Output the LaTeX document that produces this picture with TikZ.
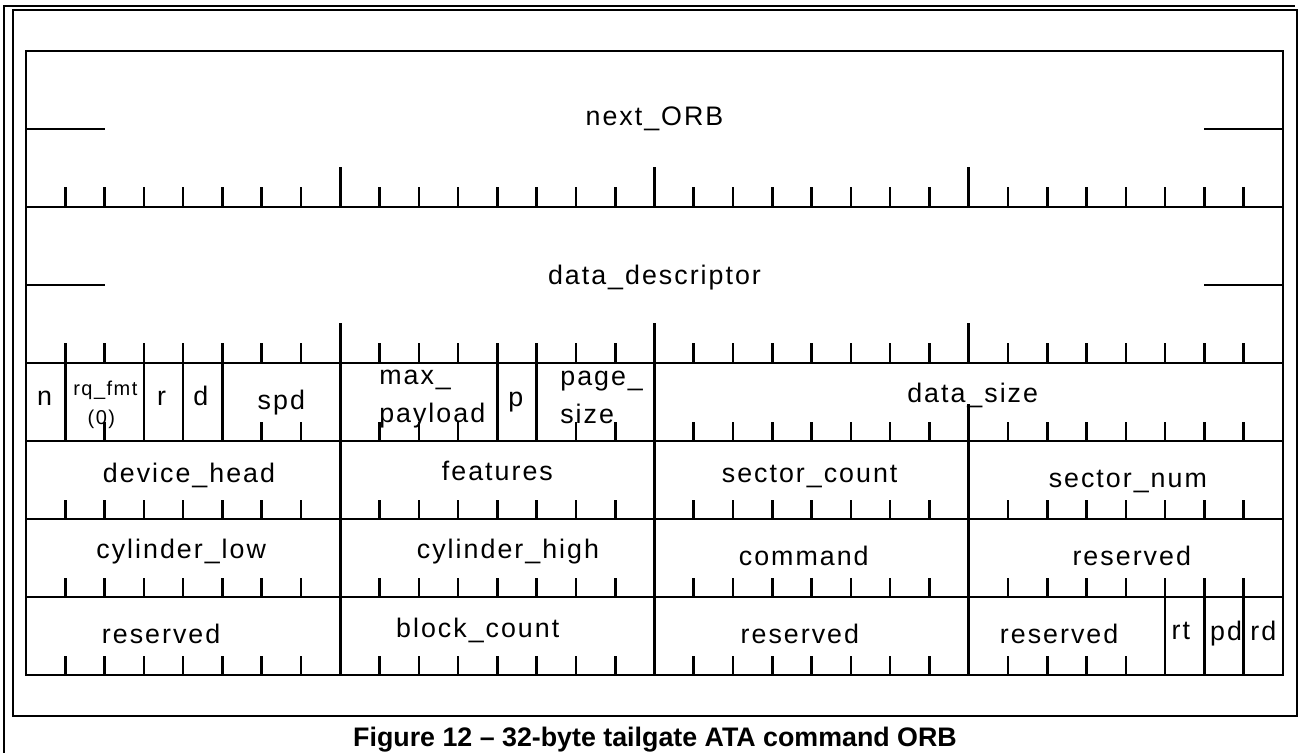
\documentclass[tikz,border=0pt]{standalone}
\usepackage{fontspec}
\setmainfont{Liberation Sans}
\newfontfamily\lblfont{Liberation Sans}[LetterSpace=7.5]
\usepackage{tikz}

\begin{document}
\begin{tikzpicture}[x=0.5pt, y=-0.5pt, line width=1.3pt,
  field/.style={font=\fontsize{13.4}{15}\lblfont, inner sep=0pt, anchor=base},
  small/.style={font=\fontsize{10}{12}\lblfont, inner sep=0pt, anchor=base},
  caption/.style={font=\fontsize{13.4}{15}\selectfont\bfseries, inner sep=0pt, anchor=base}]
  \useasboundingbox (0,0) rectangle (1304,753);
  % Frames
  \draw[line width=0.9pt] (4,753) -- (4,6) -- (1295,6);
  \draw[line width=0.9pt] (13,10) rectangle (1297,716);
  % ORB layout, one unit per bit and per quadlet
  \begin{scope}[shift={(26,51)}, x=19.64pt, y=-39pt]
    % Outline and quadlet lines
    \draw (0,0) rectangle (32,8);
    \foreach \r in {2,4,5,6,7}
      \draw (0,\r) -- (32,\r);
    % Half lines of the 64-bit fields
    \foreach \r in {1,3} {
      \draw (0,\r) -- (2,\r);
      \draw (30,\r) -- (32,\r);
    }
    % Ticks of the 64-bit fields
    \foreach \r in {2,4}
      \foreach \b in {1,...,31} {
        \pgfmathsetmacro\ticklen{mod(\b,8)==0 ? 0.51 : 0.256}
        \draw (\b,\r) -- ++(0,-\ticklen);
      }
    % Field borders
    \foreach \b in {1,3,4,5,8,12,13,16}
      \draw (\b,4) -- (\b,5);
    \foreach \b in {8,16,24}
      \draw (\b,5) -- (\b,7);
    \foreach \b in {8,16,24,29,30,31}
      \draw (\b,7) -- (\b,8);
    % Bit ticks
    \foreach \b in {2,6,7,9,10,11,14,15,17,18,19,20,21,22,23,25,26,27,28,29,30,31}
      \draw (\b,5) -- ++(0,-0.24);
    \draw (24,5) -- ++(0,-0.47);
    \foreach \r in {5,6}
      \foreach \b in {1,2,3,4,5,6,7,9,10,11,12,13,14,15,17,18,19,20,21,22,23,25,26,27,28,29,30,31}
        \draw (\b,\r+1) -- ++(0,-0.24);
    \foreach \b in {1,2,3,4,5,6,7,9,10,11,12,13,14,15,17,18,19,20,21,22,23,25,26,27,28}
      \draw (\b,8) -- ++(0,-0.24);
    % Field names
    \node[field] (norb) at (16,0.96) {next\_ORB};
    \node[field] (ddesc) at (16,3.0) {data\_descriptor};
    \node[field] (nbit) at (0.47,4.54) {n};
    \node[small] (rqfmt) at (2.02,4.42) {rq\_fmt};
    \node[small] (rqval) at (1.92,4.79) {(0)};
    \node[field] (rbit) at (3.45,4.54) {r};
    \node[field] (dbit) at (4.45,4.54) {d};
    \node[field] (spd) at (6.5,4.6) {spd};
    \node[field, anchor=base west] (maxa) at (8.96,4.28) {max\_};
    \node[field, anchor=base west] (maxb) at (8.96,4.76) {payload};
    \node[field] (pbit) at (12.47,4.56) {p};
    \node[field, anchor=base west] (pga) at (13.57,4.29) {page\_};
    \node[field, anchor=base west] (pgb) at (13.57,4.77) {size};
    \node[field] (dsize) at (24.1,4.5) {data\_size};
    \node[field] (devh) at (4.15,5.53) {device\_head};
    \node[field] (feat) at (12,5.51) {features};
    \node[field] (scount) at (19.95,5.53) {sector\_count};
    \node[field] (snum) at (28.05,5.6) {sector\_num};
    \node[field] (cyll) at (3.95,6.5) {cylinder\_low};
    \node[field] (cylh) at (12.27,6.5) {cylinder\_high};
    \node[field] (cmd) at (19.8,6.6) {command};
    \node[field] (resa) at (28.15,6.6) {reserved};
    \node[field] (resb) at (3.44,7.59) {reserved};
    \node[field] (bcount) at (11.5,7.52) {block\_count};
    \node[field] (resc) at (19.7,7.6) {reserved};
    \node[field] (resd) at (26.3,7.59) {reserved};
    \node[field] (rtbit) at (29.4,7.55) {rt};
    \node[field] (pdbit) at (30.55,7.56) {pd};
    \node[field] (rdbit) at (31.5,7.56) {rd};
  \end{scope}
  % Caption
  \node[caption] (cap) at (655,746) {Figure 12 -- 32-byte tailgate ATA command ORB};
\end{tikzpicture}
\end{document}
